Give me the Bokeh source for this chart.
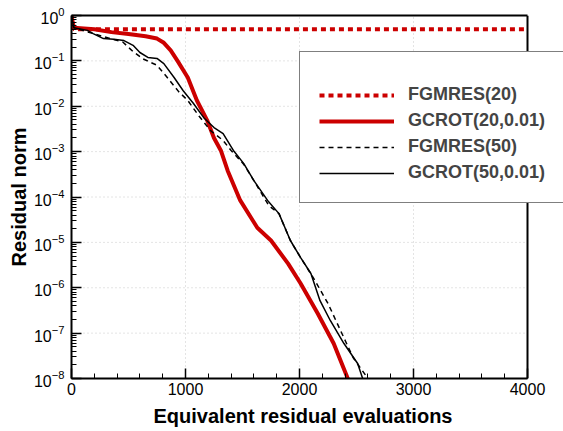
from bokeh.plotting import figure
from bokeh.models import (Legend, LegendItem, FixedTicker, SingleIntervalTicker,
                          LinearAxis, Span, Range1d, Title)
from bokeh.embed import file_html
from bokeh.resources import INLINE

# ---- data ----
fg20_x = [0, 20, 4000]
fg20_r = [1.0, 0.5, 0.5]

gc20_x = [0, 20, 200, 350, 500, 650, 750, 810, 870, 930, 1020, 1100, 1190, 1250,
          1310, 1370, 1480, 1630, 1750, 1900, 2010, 2160, 2300, 2420, 2440]
gc20_r = [1.0, 0.54, 0.50, 0.43, 0.39, 0.35, 0.31, 0.25, 0.17, 0.10, 0.043, 0.0134,
          4.9e-3, 2.0e-3, 1.06e-3, 3.8e-4, 8.4e-5, 2.1e-5, 1.1e-5, 3.4e-6, 1.24e-6,
          2.7e-7, 5.9e-8, 1.05e-8, 8e-9]

fg50_x = [0, 20, 190, 340, 450, 540, 630, 750, 840, 940, 1020, 1120, 1220, 1330,
          1400, 1510, 1600, 1730, 1820, 1920, 2010, 2120, 2250, 2360, 2470, 2600]
fg50_r = [1.0, 0.54, 0.40, 0.31, 0.26, 0.16, 0.11, 0.08, 0.043, 0.021, 0.0134, 6e-3,
          2.9e-3, 1.76e-3, 1.06e-3, 5.3e-4, 2.3e-4, 6.5e-5, 4.3e-5, 1.1e-5, 4.6e-6,
          1.68e-6, 4.5e-7, 1.14e-7, 2.9e-8, 1e-8]

gc50_x = [0, 20, 140, 190, 280, 370, 460, 540, 600, 670, 750, 810, 900, 980, 1070,
          1160, 1250, 1330, 1420, 1510, 1600, 1720, 1820, 1920, 2010, 2100, 2180,
          2270, 2390, 2510, 2560]
gc50_r = [1.0, 0.54, 0.47, 0.40, 0.31, 0.30, 0.28, 0.22, 0.153, 0.119, 0.113, 0.087,
          0.043, 0.022, 0.0115, 5.6e-3, 3.4e-3, 2.5e-3, 1.06e-3, 5.5e-4, 2.3e-4,
          8.4e-5, 4.3e-5, 1.1e-5, 4.6e-6, 2.06e-6, 5.2e-7, 1.9e-7, 5.9e-8, 2.14e-8, 9e-9]

labels = ["FGMRES(20)", "GCROT(20,0.01)", "FGMRES(50)", "GCROT(50,0.01)"]
y_ticks = [1e-8, 1e-7, 1e-6, 1e-5, 1e-4, 1e-3, 1e-2, 1e-1, 1e0]
X_MIN, X_MAX = 0, 4000

RED = "#cc0000"
FONT = "Liberation Sans"

# layout: the frame runs to the right edge of the canvas so that the legend
# may stick out past the x=4000 border, as in the reference
W, H = 563, 431
LEFT, TOP, BOTTOM = 71, 15, 53
PLOT_W = 456                      # pixel width of 0..4000
frame_w = W - LEFT
x_end = X_MAX * frame_w / PLOT_W

p = figure(width=W, height=H, y_axis_type="log",
           x_range=Range1d(X_MIN, x_end), y_range=(1e-8, 1),
           output_backend="svg", toolbar_location=None)
p.min_border_left = LEFT
p.min_border_top = TOP
p.min_border_right = 0
p.min_border_bottom = BOTTOM
p.outline_line_color = None

p.xaxis.ticker = SingleIntervalTicker(interval=1000, num_minor_ticks=5)
p.xaxis.bounds = (X_MIN, X_MAX)
p.yaxis.ticker = FixedTicker(ticks=y_ticks,
                             minor_ticks=[m * t for t in y_ticks[:-1] for m in range(2, 10)])

for ax in (p.xaxis[0], p.yaxis[0]):
    ax.axis_line_width = 2
    ax.axis_line_color = "black"
    ax.major_tick_in = 10
    ax.major_tick_out = 0
    ax.minor_tick_in = 5
    ax.minor_tick_out = 0
    ax.major_tick_line_width = 1.5
    ax.minor_tick_line_width = 1
    ax.major_label_text_font = FONT
    ax.major_label_text_font_size = "16px"
    ax.major_label_text_color = "black"
    ax.axis_label_text_font = FONT
    ax.axis_label_text_font_size = "20px"
    ax.axis_label_text_font_style = "bold"
    ax.axis_label_text_color = "black"

p.xaxis.major_label_standoff = 4
p.yaxis.major_label_standoff = 7
p.yaxis.axis_label_standoff = 1
p.yaxis.axis_label = "Residual norm"

# x-axis title, centred under the 0..4000 part of the frame
xt = Title(text="Equivalent residual evaluations", align="left", offset=82,
           text_font=FONT, text_font_size="20px", text_font_style="bold",
           text_color="black", standoff=10)
p.add_layout(xt, "below")

# top border (only over 0..4000) and right border at x=4000
top_ax = LinearAxis(ticker=FixedTicker(ticks=[]), bounds=(X_MIN, X_MAX),
                    axis_line_width=2, axis_line_color="black",
                    major_tick_out=0, minor_tick_out=0)
p.add_layout(top_ax, "above")
p.add_layout(Span(location=X_MAX, dimension="height", line_color="black",
                  line_width=2))

# grid
p.xgrid.grid_line_color = "#c8c8c8"
p.xgrid.grid_line_dash = "1 3"
p.xgrid.bounds = (X_MIN, X_MAX - 1)
p.ygrid.visible = False
p.segment(x0=[X_MIN] * len(y_ticks), x1=[X_MAX] * len(y_ticks), y0=y_ticks, y1=y_ticks,
          line_color="#c8c8c8", line_dash="1 3", line_width=1)

r1 = p.line(fg20_x, fg20_r, line_color=RED, line_width=4, line_dash="5 4")
r2 = p.line(gc20_x, gc20_r, line_color=RED, line_width=4)
r3 = p.line(fg50_x, fg50_r, line_color="black", line_width=1.5, line_dash="5 4")
r4 = p.line(gc50_x, gc50_r, line_color="black", line_width=1.5)

frame_bottom = H - BOTTOM
legend = Legend(items=[LegendItem(label=l, renderers=[r])
                       for l, r in zip(labels, [r1, r2, r3, r4])],
                location=(299 - LEFT, frame_bottom - 203),
                margin=0, padding=19, spacing=5,
                glyph_width=75, glyph_height=20, label_height=20,
                label_width=180, label_standoff=14,
                label_text_font=FONT, label_text_font_size="18px",
                label_text_font_style="bold",
                title=" ", title_text_font_size="8px", title_standoff=4,
                border_line_color="black", border_line_width=1.5,
                background_fill_color="white", background_fill_alpha=1)
p.add_layout(legend)

open("out.html", "w").write(file_html(p, INLINE))
